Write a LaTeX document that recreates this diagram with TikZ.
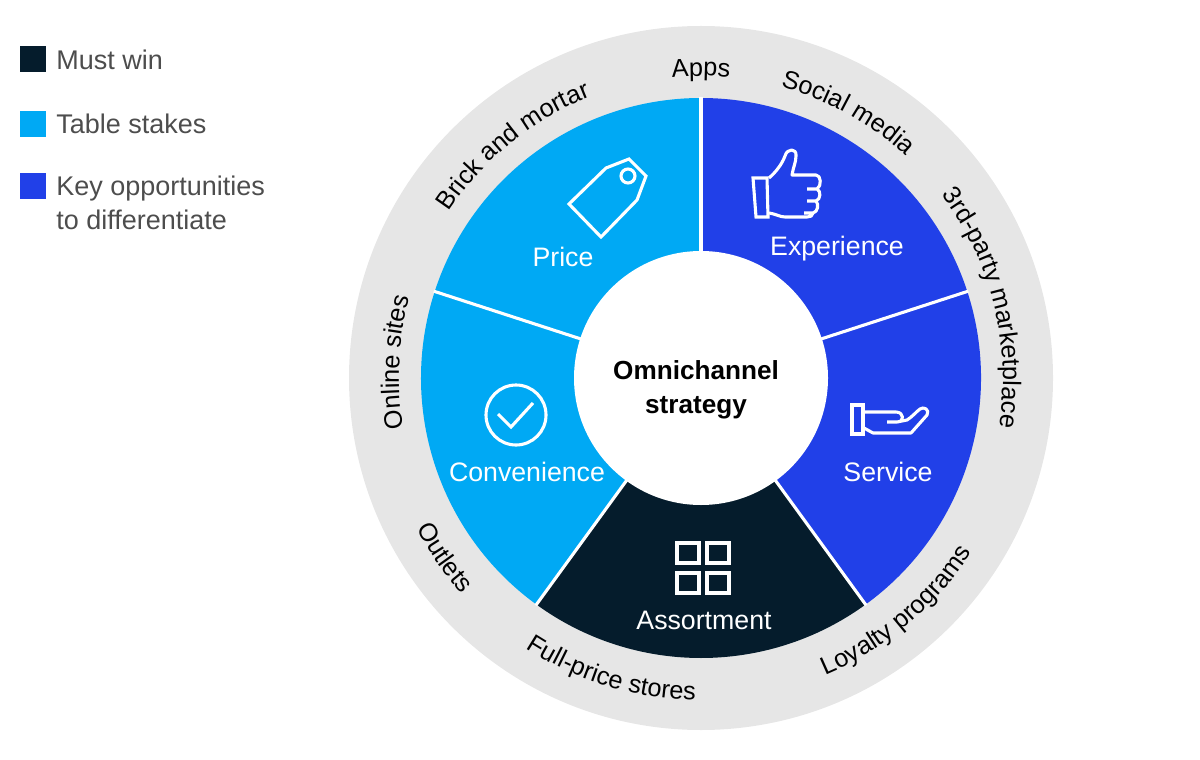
\documentclass[tikz,border=0pt]{standalone}
\usepackage{fontspec}
\setsansfont{Liberation Sans}
\usetikzlibrary{decorations.text}
\definecolor{mustwin}{HTML}{051C2C}
\definecolor{tablestakes}{HTML}{00A9F4}
\definecolor{keyopp}{HTML}{2140E8}
\definecolor{ringgray}{HTML}{E6E6E6}
\definecolor{legendgray}{HTML}{4D4D4D}
\newcommand{\ringfont}{\sffamily\fontsize{18}{18}\selectfont\color{black}}
\tikzset{
  seglabel/.style={text=white,font=\sffamily\fontsize{19}{22}\selectfont},
  legendlabel/.style={text=legendgray,anchor=base west,inner sep=0pt,font=\sffamily\fontsize{19.2}{24}\selectfont},
  icon/.style={draw=white,line width=2.2pt,line join=miter},
}
% ring labels, arc runs clockwise on top and counterclockwise below
\newcommand{\toplabel}[2]{\path[decorate,decoration={text along path,text align=center,text={|\ringfont|#2}}]
  (#1+55:302) arc[start angle=#1+55,end angle=#1-55,radius=302];}
\newcommand{\botlabel}[2]{\path[decorate,decoration={text along path,text align=center,text={|\ringfont|#2}}]
  (#1-30:322) arc[start angle=#1-30,end angle=#1+30,radius=322];}
\begin{document}
\begin{tikzpicture}[x=0.025cm,y=-0.025cm,font=\sffamily]
    \useasboundingbox (0,0) rectangle (1200,760);

    % wheel
    \begin{scope}[shift={(701,378)},y=0.025cm]
      \fill[ringgray] (0,0) circle [radius=352];
      \foreach \a/\b/\col in {90/18/keyopp,18/-54/keyopp,-54/-126/mustwin,-126/-198/tablestakes,162/90/tablestakes} {
        \fill[\col] (0,0) -- (\a:280) arc[start angle=\a,end angle=\b,radius=280] -- cycle;
      }
      \foreach \a in {90,18,-54,-126,162} {
        \draw[white,line width=2.2pt] (0,0) -- (\a:281);
      }
      \fill[white] (0,0) circle [radius=127];

      \toplabel{90}{Apps}
      \toplabel{61}{Social media}
      \toplabel{14}{3rd-party marketplace}
      \toplabel{177}{Online sites}
      \toplabel{129}{Brick and mortar}
      \botlabel{-50}{Loyalty programs}
      \botlabel{-107}{Full-price stores}
      \botlabel{-145}{Outlets}
    \end{scope}

    \node[font=\sffamily\bfseries\fontsize{18.6}{24.5}\selectfont,align=center] (center) at (696,390) {Omnichannel\\strategy};

    % segment names
    \node[seglabel] (price) at (563,257) {Price};
    \node[seglabel] (experience) at (837,249) {Experience};
    \node[seglabel] (service) at (888,472) {Service};
    \node[seglabel] (convenience) at (527,472) {Convenience};
    \node[seglabel] (assortment) at (704,620) {Assortment};

    % tag
    \draw[icon] (569,204) -- (601,237) -- (637,200) -- (646,176) -- (629,159) -- (606,168) -- cycle;
    \draw[icon] (628,176) circle [radius=7];
    % thumb
    \draw[icon] (753,178) -- (767,178) -- (768,217) -- (756,217) -- cycle;
    \draw[icon,line join=round] (769,178) .. controls (776,172) and (782,164) .. (785,156)
      .. controls (787,148) and (797,148) .. (796,156) .. controls (796,162) and (793,168) .. (792,175)
      -- (816,175) .. controls (821,175) and (822,186) .. (817,189) -- (807,189)
      (817,189) .. controls (821,191) and (821,199) .. (816,201) -- (807,201)
      (816,201) .. controls (819,204) and (818,212) .. (813,213) -- (804,213)
      (813,213) .. controls (813,216) and (810,217) .. (807,217) -- (785,217)
      .. controls (780,217) and (776,214) .. (769,213);
    % hand
    \draw[icon] (852,405) rectangle (863,434);
    \draw[icon,line join=round] (864,412) -- (896,412) .. controls (904,412) and (905,422) .. (897,422) -- (887,422)
      (897,422) -- (907,420) .. controls (912,417) and (916,412) .. (920,409)
      .. controls (924,406) and (930,410) .. (927,415) -- (911,433) -- (873,433) -- (864,428);
    % check
    \draw[icon] (516,415) circle [radius=30];
    \draw[icon] (498,414) -- (511,427) -- (533,403);
    % grid
    \foreach \x in {677,707} {
      \foreach \y in {543,573} {
        \draw[icon] (\x,\y) rectangle (\x+22,\y+20);
      }
    }

    % legend
    \foreach \y/\col in {46/mustwin,111/tablestakes,173/keyopp} {
      \fill[\col] (20,\y) rectangle (46,\y+26);
    }
    \node[legendlabel] (must) at (56,70) {Must win};
    \node[legendlabel] (table) at (56,134) {Table stakes};
    \node[legendlabel] (key) at (56,196) {Key opportunities};
    \node[legendlabel] (diff) at (56,230) {to differentiate};
\end{tikzpicture}
\end{document}
